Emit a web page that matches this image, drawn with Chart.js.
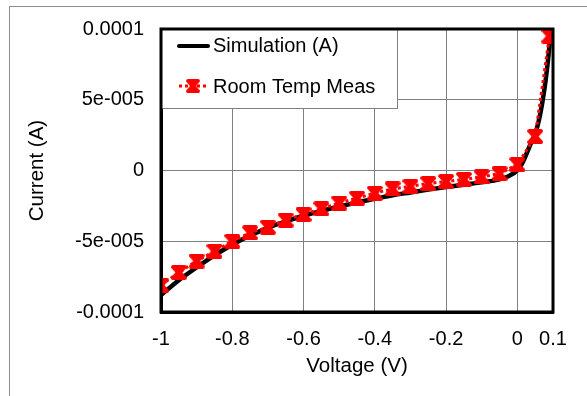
<!DOCTYPE html>
<html>
<head>
<meta charset="utf-8">
<script src="https://cdn.jsdelivr.net/npm/chart.js@4.4.1/dist/chart.umd.min.js"></script>
<style>
  html, body { margin: 0; padding: 0; background: #fff; }
  #wrap { position: relative; width: 587px; height: 396px; overflow: hidden; }
  #frame { position: absolute; left: 9px; top: 6px; width: 700px; height: 500px; border: 1px solid #8c8c8c; }
  #chartCanvas { position: absolute; left: 0; top: 0; }
</style>
</head>
<body>
<div id="wrap">
  <div id="frame"></div>
  <canvas id="chartCanvas" width="587" height="396"></canvas>
</div>
<script>
// axis ticks
const xTickValues = [-1, -0.8, -0.6, -0.4, -0.2, 0, 0.1];
const xTickLabels = ['-1', '-0.8', '-0.6', '-0.4', '-0.2', '0', '0.1'];
const yTickValues = [-0.0001, -0.00005, 0, 0.00005, 0.0001];
const yTickLabels = ['-0.0001', '-5e-005', '0', '5e-005', '0.0001'];

// simulation curve
const simVoltage = [-1, -0.95, -0.9, -0.85, -0.8, -0.75, -0.7, -0.65, -0.6, -0.55, -0.5, -0.45, -0.4, -0.35, -0.3,
  -0.25, -0.2, -0.15, -0.1, -0.05, -0.025, 0, 0.01, 0.02, 0.035, 0.05, 0.06, 0.07, 0.08, 0.09, 0.1];
const simCurrent = [-8.8e-5, -7.75e-5, -6.85e-5, -6.0e-5, -5.25e-5, -4.6e-5, -4.05e-5, -3.6e-5, -3.2e-5, -2.85e-5,
  -2.55e-5, -2.25e-5, -2.0e-5, -1.75e-5, -1.55e-5, -1.35e-5, -1.17e-5, -1.0e-5, -0.84e-5, -0.63e-5, -0.4e-5,
  0.0, 0.35e-5, 0.85e-5, 1.75e-5, 2.6e-5, 3.5e-5, 4.8e-5, 6.5e-5, 8.8e-5, 11.9e-5];

// room temperature measurement
const measVoltage = [-1, -0.95, -0.9, -0.85, -0.8, -0.75, -0.7, -0.65, -0.6, -0.55, -0.5, -0.45, -0.4, -0.35,
  -0.3, -0.25, -0.2, -0.15, -0.1, -0.05, 0, 0.05, 0.09];
const measCurrent = [-8.1e-5, -7.2e-5, -6.4e-5, -5.7e-5, -5.0e-5, -4.4e-5, -4.0e-5, -3.5e-5, -3.1e-5, -2.7e-5,
  -2.3e-5, -1.95e-5, -1.6e-5, -1.3e-5, -1.12e-5, -0.92e-5, -0.78e-5, -0.63e-5, -0.45e-5, -0.22e-5, 0.42e-5,
  2.4e-5, 9.5e-5];

const FONT = '"Liberation Sans", Arial, sans-serif';

// hourglass shaped marker
function makeMarker() {
    const c = document.createElement('canvas');
    c.width = 16; c.height = 15;
    const g = c.getContext('2d');
    g.fillStyle = '#ff0000';
    g.beginPath();
    g.moveTo(2, 0); g.lineTo(14, 0);
    g.quadraticCurveTo(16, 0, 16, 2.5);
    g.lineTo(11.5, 7.5); g.lineTo(16, 12.5);
    g.quadraticCurveTo(16, 15, 14, 15);
    g.lineTo(2, 15);
    g.quadraticCurveTo(0, 15, 0, 12.5);
    g.lineTo(4.5, 7.5); g.lineTo(0, 2.5);
    g.quadraticCurveTo(0, 0, 2, 0);
    g.closePath();
    g.fill();
    return c;
}
const marker = makeMarker();

const toXY = (xs, ys) => xs.map((x, i) => ({ x: x, y: ys[i] }));

const legendBox = {
    id: 'legendBox',
    afterDatasetsDraw(chart) {
        const ctx = chart.ctx;
        const a = chart.chartArea;
        const sim = chart.data.datasets[1];
        const meas = chart.data.datasets[0];
        ctx.save();
        ctx.fillStyle = '#fff';
        ctx.fillRect(a.left, a.top, 236, 79);
        ctx.strokeStyle = '#808080';
        ctx.lineWidth = 1;
        ctx.strokeRect(a.left + 0.5, a.top + 0.5, 236, 79);

        // simulation sample
        ctx.strokeStyle = sim.borderColor;
        ctx.lineWidth = 4;
        ctx.lineCap = 'round';
        ctx.beginPath();
        ctx.moveTo(179, 46); ctx.lineTo(208, 46);
        ctx.stroke();

        // measurement sample
        ctx.strokeStyle = meas.borderColor;
        ctx.lineWidth = 3;
        ctx.lineCap = 'butt';
        ctx.setLineDash(meas.borderDash);
        ctx.beginPath();
        ctx.moveTo(179, 86); ctx.lineTo(208, 86);
        ctx.stroke();
        ctx.setLineDash([]);
        ctx.drawImage(marker, 186, 79, 14, 14);

        ctx.fillStyle = '#000';
        ctx.font = '20px ' + FONT;
        ctx.textBaseline = 'middle';
        ctx.fillText(sim.label, 213, 46);
        ctx.fillText(meas.label, 213, 87);
        ctx.restore();
    },
    afterDraw(chart) {
        const ctx = chart.ctx;
        const a = chart.chartArea;
        ctx.save();
        ctx.strokeStyle = '#000';
        ctx.lineWidth = 3;
        ctx.strokeRect(a.left, a.top, a.right - a.left, a.bottom - a.top);
        ctx.restore();
    }
};

const ctx = document.getElementById('chartCanvas').getContext('2d');
new Chart(ctx, {
    type: 'line',
    data: {
        datasets: [
            {
                label: 'Room Temp Meas',
                data: toXY(measVoltage, measCurrent),
                borderColor: '#ff0000',
                backgroundColor: '#ff0000',
                borderWidth: 3,
                borderDash: [3, 3],
                pointStyle: marker,
                pointRadius: 8,
                tension: 0
            },
            {
                label: 'Simulation (A)',
                data: toXY(simVoltage, simCurrent),
                borderColor: '#000000',
                borderWidth: 4.5,
                pointRadius: 0,
                cubicInterpolationMode: 'monotone'
            }
        ]
    },
    options: {
        responsive: false,
        animation: false,
        layout: { padding: { left: 25, top: 26, right: 34, bottom: 17 } },
        plugins: { legend: { display: false }, tooltip: { enabled: false } },
        scales: {
            x: {
                type: 'linear',
                min: -1,
                max: 0.1,
                afterBuildTicks: s => { s.ticks = xTickValues.map(v => ({ value: v })); },
                afterFit: s => { s.height = 67; },
                ticks: {
                    padding: 15,
                    autoSkip: false,
                    maxRotation: 0,
                    color: '#000',
                    font: { family: FONT, size: 20 },
                    callback: (v, i) => xTickLabels[i]
                },
                grid: { color: '#808080', lineWidth: 1, drawTicks: false },
                border: { color: '#000', width: 3 },
                title: {
                    display: true,
                    text: 'Voltage (V)',
                    color: '#000',
                    padding: 0,
                    font: { family: FONT, size: 20.5, lineHeight: 1.2 }
                }
            },
            y: {
                type: 'linear',
                min: -0.0001,
                max: 0.0001,
                afterBuildTicks: s => { s.ticks = yTickValues.map(v => ({ value: v })); },
                afterFit: s => { s.width = 136; },
                ticks: {
                    padding: 17,
                    color: '#000',
                    font: { family: FONT, size: 20 },
                    callback: (v, i) => yTickLabels[i]
                },
                grid: { color: '#808080', lineWidth: 1, drawTicks: false },
                border: { color: '#000', width: 3 },
                title: {
                    display: true,
                    text: 'Current (A)',
                    color: '#000',
                    padding: 0,
                    font: { family: FONT, size: 20.5, lineHeight: 1.2 }
                }
            }
        }
    },
    plugins: [legendBox]
});
</script>
</body>
</html>
